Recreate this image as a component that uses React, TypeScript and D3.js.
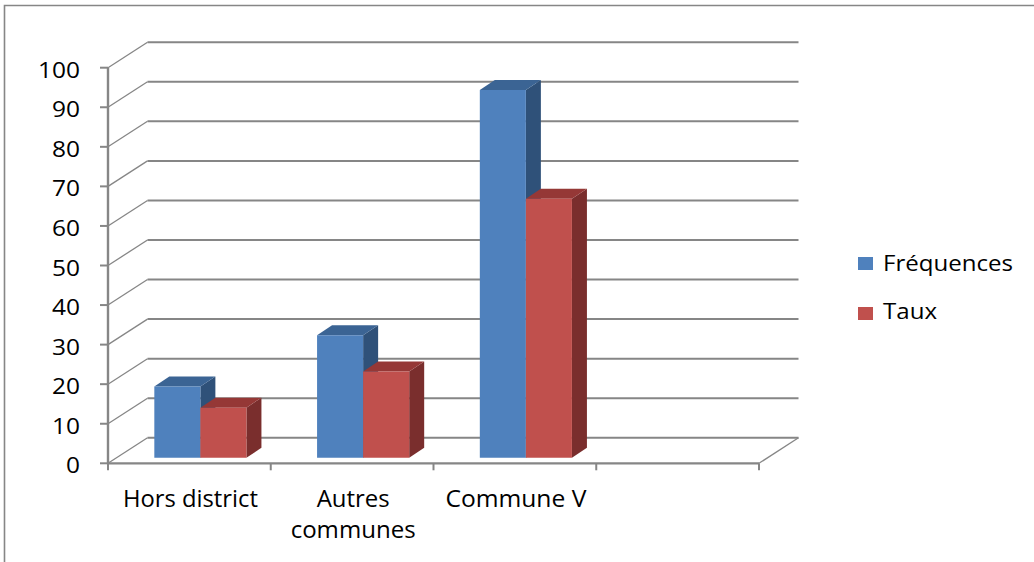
import React from "react";
import * as d3 from "d3";

// Origin of respondents: counts and share (%)
const categories: string[][] = [["Hors district"], ["Autres", "communes"], ["Commune V"]];
const frequences: number[] = [18, 31, 93];
const taux: number[] = [12.68, 21.83, 65.49];
const seriesNames: string[] = ["Fréquences", "Taux"];
const yTicks: number[] = [0, 10, 20, 30, 40, 50, 60, 70, 80, 90, 100];
const slotCount = 4; // the category axis has one empty trailing slot

const W = 1034;
const H = 562;

// 3D box layout
const plotLeft = 108;
const plotRight = 759;
const yBottom = 463.3;
const yTop = 67.7;
const wallDx = 39.5; // floor/back wall depth offset
const wallDy = -25.5;
const barDx = 11; // bar front face position within the depth
const barDy = -5.5;
const depthDx = 15; // bar depth
const depthDy = -10;

const colors = {
  blue: { front: "#4F81BD", top: "#3B6494", side: "#2F5179" },
  red: { front: "#C0504D", top: "#953836", side: "#7A2E2D" },
};
const gridColor = "#868686";
const fontFamily = "'Open Sans', 'Liberation Sans', sans-serif";

// rendered widths of the category label lines (condensed label font)
const labelWidths: Record<string, number> = {
  "Hors district": 135,
  Autres: 73,
  communes: 125,
  "Commune V": 141,
};
const legendWidths: Record<string, number> = { "Fréquences": 130, Taux: 54 };

export default function App() {
  const y = d3.scaleLinear().domain([0, 100]).range([yBottom, yTop]);
  const x = d3
    .scaleBand<number>()
    .domain(d3.range(slotCount))
    .range([plotLeft, plotRight])
    .paddingInner(0)
    .paddingOuter(0);
  const bw = x.bandwidth() * 0.283;

  const bar = (cx: number, v: number, c: { front: string; top: string; side: string }, key: string) => {
    const base = yBottom + barDy;
    const top = base - (y(0) - y(v));
    const x0 = cx;
    const x1 = cx + bw;
    const frontPath = d3.path();
    frontPath.rect(x0, top, bw, base - top);
    const topPath = d3.line()([
      [x0, top],
      [x0 + depthDx, top + depthDy],
      [x1 + depthDx, top + depthDy],
      [x1, top],
    ]) + "Z";
    const sidePath = d3.line()([
      [x1, top],
      [x1 + depthDx, top + depthDy],
      [x1 + depthDx, base + depthDy],
      [x1, base],
    ]) + "Z";
    return (
      <g key={key}>
        <path d={sidePath} fill={c.side} />
        <path d={topPath} fill={c.top} />
        <path d={frontPath.toString()} fill={c.front} />
      </g>
    );
  };

  const slotEdges = d3.range(slotCount + 1).map((i) => plotLeft + i * x.step());

  return (
    <svg
      width={W}
      height={H}
      style={{ position: "absolute", left: 0, top: 0, background: "#fff" }}
      fontFamily={fontFamily}
    >
      {/* outer frame */}
      <path d={`M4.5,${H} V5.5 H${W}`} fill="none" stroke={gridColor} strokeWidth={1.6} />

      {/* back wall gridlines and side wall diagonals */}
      {yTicks.map((t) => (
        <g key={`g${t}`}>
          <line
            x1={plotLeft + wallDx}
            x2={plotRight + wallDx}
            y1={y(t) + wallDy}
            y2={y(t) + wallDy}
            stroke={gridColor}
            strokeWidth={2}
          />
          <line
            x1={plotLeft}
            y1={y(t)}
            x2={plotLeft + wallDx}
            y2={y(t) + wallDy}
            stroke={gridColor}
            strokeWidth={1.3}
          />
        </g>
      ))}

      {/* floor front edge and right edge */}
      <line x1={plotLeft} x2={plotRight} y1={yBottom} y2={yBottom} stroke={gridColor} strokeWidth={2.2} />
      <line
        x1={plotRight}
        y1={yBottom}
        x2={plotRight + wallDx}
        y2={yBottom + wallDy}
        stroke={gridColor}
        strokeWidth={1.3}
      />

      {/* value axis */}
      <line x1={plotLeft} x2={plotLeft} y1={yTop} y2={yBottom + 1} stroke={gridColor} strokeWidth={2.4} />
      {yTicks.map((t) => (
        <g key={`t${t}`}>
          <line x1={plotLeft - 8} x2={plotLeft} y1={y(t)} y2={y(t)} stroke={gridColor} strokeWidth={2} />
          <text
            x={80}
            y={y(t) + 10}
            textAnchor="end"
            fontSize={22}
            fill="#000"
            textLength={String(t).length * 14}
            lengthAdjust="spacingAndGlyphs"
          >
            {t}
          </text>
        </g>
      ))}

      {/* category axis ticks */}
      {slotEdges.map((e, i) => (
        <line key={`c${i}`} x1={e} x2={e} y1={yBottom} y2={yBottom + 7} stroke={gridColor} strokeWidth={2} />
      ))}

      {/* bars */}
      {categories.map((_, i) => {
        const cx = (x(i) as number) + x.bandwidth() / 2 + barDx;
        return (
          <g key={`b${i}`}>
            {bar(cx - bw, frequences[i], colors.blue, "f")}
            {bar(cx, taux[i], colors.red, "t")}
          </g>
        );
      })}

      {/* category labels */}
      {categories.map((lines, i) => {
        const cx = (x(i) as number) + x.bandwidth() / 2 + 1;
        return (
          <g key={`l${i}`}>
            {lines.map((ln, j) => (
              <text
                key={j}
                x={cx}
                y={506.7 + j * 31.3}
                textAnchor="middle"
                fontSize={23}
                fill="#000"
                textLength={labelWidths[ln]}
                lengthAdjust="spacingAndGlyphs"
              >
                {ln}
              </text>
            ))}
          </g>
        );
      })}

      {/* legend */}
      {seriesNames.map((name, i) => (
        <g key={`lg${i}`} transform={`translate(858, ${257 + i * 50})`}>
          <rect x={0} y={0} width={15} height={13} fill={i === 0 ? colors.blue.front : colors.red.front} />
          <text
            x={25}
            y={13.5 - i * 1.5}
            fontSize={22}
            fill="#000"
            textLength={legendWidths[name]}
            lengthAdjust="spacingAndGlyphs"
          >
            {name}
          </text>
        </g>
      ))}
    </svg>
  );
}
